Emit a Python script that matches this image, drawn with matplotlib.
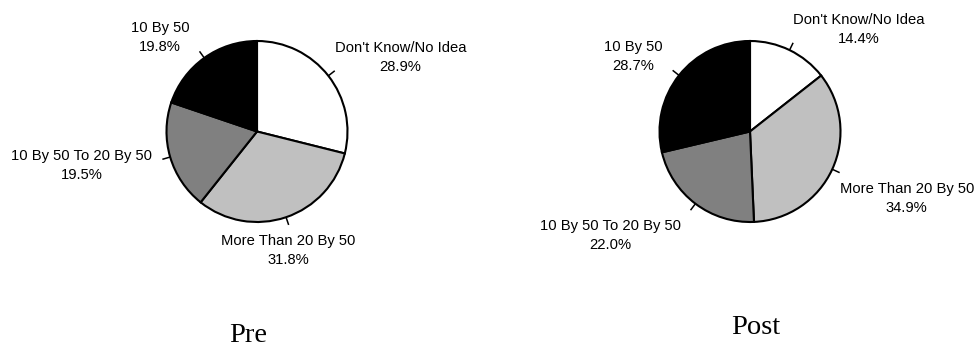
import numpy as np
import matplotlib
matplotlib.use("Agg")
import matplotlib.pyplot as plt

categories = ["Don't Know/No Idea", "More Than 20 By 50",
              "10 By 50 To 20 By 50", "10 By 50"]
pre_values = [28.9, 31.8, 19.5, 19.8]
post_values = [14.4, 34.9, 22.0, 28.7]
titles = ["Pre", "Post"]
colors = ["#FFFFFF", "#C0C0C0", "#808080", "#000000"]

W, H, DPI = 977, 350, 100
fig = plt.figure(figsize=(W / DPI, H / DPI), dpi=DPI)
fig.patch.set_facecolor("white")

label_font = dict(family="Liberation Sans", size=10.6)
title_font = dict(family="Liberation Serif", size=20.5)

# pie centres / radius in pixels, title positions in pixels
pies = [
    dict(values=pre_values, cx=257, cy=131.5, r=90.5, title=titles[0], tx=248, ty=335),
    dict(values=post_values, cx=750, cy=131.5, r=90.5, title=titles[1], tx=756, ty=328),
]

TICK = 1.09

for p in pies:
    r = p["r"]
    ax = fig.add_axes([(p["cx"] - r) / W, (H - p["cy"] - r) / H, 2 * r / W, 2 * r / H])
    wedges, _ = ax.pie(p["values"], colors=colors, startangle=90, counterclock=False,
                       wedgeprops=dict(edgecolor="black", linewidth=1.5),
                       radius=1.0)
    ax.set_xlim(-1, 1)
    ax.set_ylim(-1, 1)
    ax.set_aspect("auto")
    ax.axis("off")

    for w, cat, val in zip(wedges, categories, p["values"]):
        mid = np.deg2rad((w.theta1 + w.theta2) / 2)
        c, s = np.cos(mid), np.sin(mid)
        ax.plot([c, TICK * c], [s, TICK * s], color="black", lw=1.1,
                solid_capstyle="butt", clip_on=False)
        if c > 0.4:
            ha, dx = "left", 0
        elif c < -0.4:
            ha, dx = "right", -10
        else:
            ha, dx = "center", 0
        if s > 0.3:
            va, dy = "bottom", -3
        elif s < -0.3:
            va, dy = "top", -9
        else:
            va, dy = "center", -6
        ax.annotate(f"{cat}\n{val:.1f}%", xy=(TICK * c, TICK * s),
                    xytext=(dx, dy), textcoords="offset pixels",
                    ha=ha, va=va, multialignment="center",
                    linespacing=1.45, annotation_clip=False, **label_font)

    fig.text(p["tx"] / W, 1 - p["ty"] / H, p["title"], ha="center", va="center",
             **title_font)

fig.savefig("out.png", dpi=DPI, facecolor="white")
